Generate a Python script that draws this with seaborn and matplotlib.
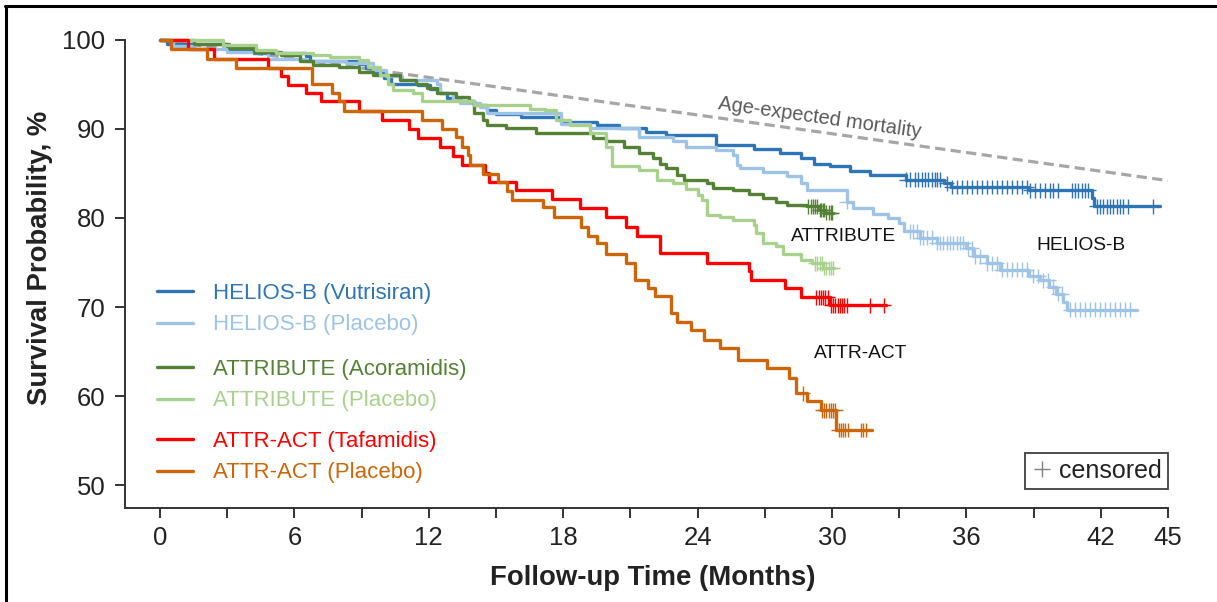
import numpy as np
import pandas as pd
import matplotlib
matplotlib.use("Agg")
import matplotlib.pyplot as plt
from matplotlib.lines import Line2D
import seaborn as sns

arms = ["HELIOS-B (Vutrisiran)", "HELIOS-B (Placebo)", "ATTRIBUTE (Acoramidis)",
        "ATTRIBUTE (Placebo)", "ATTR-ACT (Tafamidis)", "ATTR-ACT (Placebo)"]
colors = ["#2e75b6", "#9dc3e6", "#548235", "#a9d18e", "#ff0000", "#cc6608"]

# KM curves: month of each step and survival (%) after it,
# last entry is the end of follow-up
helios_vut_t = [0, 0.3, 3.0, 4.2, 6.5, 6.7, 8.9, 9.2, 9.5, 10.0, 10.3, 11.5, 12.05, 12.5, 12.8,
                13.4, 14.0, 14.6, 15.0, 16.1, 17.9, 19.5, 20.5, 21.7, 22.6, 24.8, 26.5, 27.7, 28.6,
                29.2, 29.9, 30.8, 31.7, 33.3, 35.0, 35.3, 38.8, 41.6, 41.7, 44.64]
helios_vut_s = [100, 99.6, 98.9, 98.5, 98.2, 97.6, 97.3, 96.9, 96.3, 95.7, 95.1, 94.9, 94.5, 94.0, 93.5,
                93.1, 92.7, 92.1, 91.7, 91.4, 90.8, 90.4, 90.1, 89.7, 89.3, 88.2, 87.8, 87.3, 86.7,
                86.1, 85.8, 85.3, 84.8, 84.3, 83.9, 83.5, 83.1, 82.2, 81.3, 81.3]

helios_pbo_t = [0, 0.6, 1.5, 3.0, 4.8, 6.5, 8.3, 9.5, 10.1, 10.8, 12.35, 12.5, 13.1, 13.4, 14.3, 14.6,
                17.9, 19.2, 21.4, 22.9, 23.5, 24.8, 25.6, 25.75, 25.9, 26.9, 28.0, 28.6, 28.87, 30.65,
                30.95, 31.85, 32.5, 33.0, 33.2, 33.93, 34.67, 36.0, 36.3, 36.9, 37.5, 38.8, 39.3, 39.7,
                40.0, 40.3, 40.5, 43.6]
helios_pbo_s = [100, 99.3, 99.0, 98.7, 97.9, 97.6, 97.4, 96.6, 95.9, 95.5, 95.0, 94.0, 93.3, 92.9, 92.5, 91.8,
                90.6, 90.1, 89.1, 88.6, 88.0, 87.6, 87.1, 86.0, 85.6, 85.2, 84.7, 83.9, 83.1, 81.8,
                81.1, 80.5, 80.0, 79.4, 78.5, 77.8, 77.2, 76.6, 75.7, 74.9, 74.2, 73.5, 73.0, 72.3,
                71.5, 70.6, 69.7, 69.7]

attribute_aco_t = [0, 1.5, 3.1, 4.2, 5.4, 6.25, 6.85, 8.0, 8.9, 9.5, 10.7, 11.45, 11.9, 12.35, 13.2,
                   13.8, 14.0, 14.4, 14.6, 15.45, 16.8, 19.35, 19.9, 20.7, 21.4, 22.0, 22.3, 22.6, 23.1,
                   23.4, 24.4, 24.7, 25.6, 26.3, 26.9, 27.5, 28.0, 28.9, 29.4, 29.7, 30.06]
attribute_aco_s = [100, 99.6, 99.1, 98.7, 98.3, 97.6, 97.2, 97.0, 96.4, 96.1, 95.5, 95.1, 94.6, 94.0, 93.6,
                   93.1, 91.8, 91.0, 90.4, 90.1, 89.5, 89.0, 88.6, 88.0, 87.3, 86.7, 86.1, 85.6, 84.8,
                   84.3, 83.9, 83.4, 83.1, 82.7, 82.2, 81.8, 81.5, 81.3, 80.9, 80.6, 80.6]

attribute_pbo_t = [0, 2.8, 4.3, 5.2, 6.85, 7.6, 8.9, 9.3, 9.8, 10.2, 10.4, 11.3, 11.7, 14.0, 16.5,
                   17.2, 17.7, 18.3, 19.2, 19.9, 20.2, 21.4, 22.2, 22.9, 23.5, 24.0, 24.2, 24.4, 25.0,
                   25.6, 26.5, 26.6, 26.9, 27.5, 27.8, 28.6, 29.1, 29.6, 30.1]
attribute_pbo_s = [100, 99.4, 98.9, 98.5, 98.3, 98.1, 97.8, 97.0, 96.1, 95.0, 94.4, 94.0, 93.1, 92.7, 92.3,
                   92.1, 91.0, 90.4, 89.5, 88.0, 85.8, 85.4, 84.3, 83.9, 83.3, 82.6, 82.0, 80.3, 80.1,
                   79.8, 79.2, 78.3, 77.2, 76.8, 76.0, 75.3, 74.9, 74.4, 74.4]

attract_taf_t = [0, 1.25, 2.4, 4.8, 5.4, 5.7, 6.5, 7.2, 8.9, 9.9, 11.1, 11.5, 12.5, 13.1, 13.5,
                 14.5, 14.7, 15.9, 17.5, 18.75, 19.9, 20.8, 21.3, 22.3, 24.4, 26.3, 26.4, 27.9, 28.6,
                 29.9, 32.4]
attract_taf_s = [100, 99.0, 97.9, 96.8, 95.9, 94.9, 94.0, 93.1, 92.0, 91.0, 90.0, 89.0, 88.0, 87.0, 86.0,
                 85.0, 84.0, 83.1, 82.1, 81.1, 80.1, 79.0, 78.0, 76.1, 75.0, 74.0, 73.0, 72.1, 71.1,
                 70.2, 70.2]

attract_pbo_t = [0, 0.5, 2.1, 3.4, 6.8, 7.7, 8.0, 8.2, 11.7, 12.6, 13.2, 13.5, 13.75, 13.85, 14.4,
                 15.1, 15.5, 15.7, 17.1, 17.6, 18.8, 19.1, 19.5, 19.9, 20.8, 21.2, 21.8, 22.1, 22.8,
                 23.1, 23.7, 24.3, 25.0, 25.8, 27.1, 28.1, 28.4, 28.9, 29.5, 30.2, 31.8]
attract_pbo_s = [100, 99.0, 97.9, 96.8, 95.0, 94.0, 93.1, 92.0, 91.0, 90.0, 89.1, 88.0, 87.1, 86.0, 84.9,
                 84.1, 83.0, 82.0, 81.2, 80.1, 79.0, 78.0, 77.2, 76.0, 74.9, 73.0, 72.1, 71.2, 69.3,
                 68.3, 67.4, 66.3, 65.4, 64.0, 63.1, 62.0, 60.3, 59.4, 58.4, 56.2, 56.2]

# censoring times (months)
helios_vut_c = [33.30, 33.48, 33.70, 33.85, 34.00, 34.15, 34.30, 34.45, 34.60, 34.70, 34.82, 35.12,
                35.34, 35.57, 35.79, 36.01, 36.24, 36.46, 36.68, 36.90, 37.13, 37.35, 37.57, 37.80,
                38.02, 38.24, 38.47, 38.69, 38.84, 39.06, 39.29, 39.51, 39.73, 39.88, 40.10, 40.70,
                40.85, 41.00, 41.15, 41.30, 41.44, 41.82, 41.96, 42.11, 42.26, 42.41, 42.56, 42.71,
                42.86, 43.01, 43.23, 44.35]
helios_pbo_c = [30.65, 33.48, 33.63, 33.78, 33.93, 34.08, 34.23, 34.45, 34.67, 34.82, 34.97, 35.12,
                35.27, 35.42, 35.57, 35.71, 35.86, 36.09, 36.24, 36.38, 36.61, 36.90, 37.13, 37.35,
                37.57, 37.80, 38.02, 38.24, 38.47, 38.69, 38.99, 39.21, 39.43, 39.66, 39.88, 40.10,
                40.25, 40.63, 40.85, 41.07, 41.30, 41.52, 41.74, 41.96, 42.19, 42.41, 42.63, 42.86,
                43.08, 43.30]
attribute_aco_c = [28.95, 29.05, 29.15, 29.25, 29.35, 29.45, 29.5, 29.6, 29.65, 29.75, 29.85, 29.95, 30.0]
attribute_pbo_c = [29.25, 29.35, 29.45, 29.55, 29.65, 29.75, 29.85, 29.95, 30.05]
attract_taf_c = [29.3, 29.4, 29.5, 29.6, 29.7, 29.8, 29.95, 30.05, 30.15, 30.25, 30.35, 30.45, 30.55,
                 30.65, 31.7, 32.3]
attract_pbo_c = [28.7, 29.55, 29.65, 29.75, 29.85, 29.95, 30.05, 30.15, 30.3, 30.4, 30.5, 30.6, 30.7,
                 31.3, 31.4, 31.5]

# age-expected mortality reference line
age_t = [0, 45]
age_s = [100.0, 84.2]

xticks = [0, 3, 6, 9, 12, 15, 18, 21, 24, 27, 30, 33, 36, 39, 42, 45]
xticklabels = ["0", "", "6", "", "12", "", "18", "", "24", "", "30", "", "36", "", "42", "45"]
yticks = [50, 60, 70, 80, 90, 100]

curves = [(helios_vut_t, helios_vut_s), (helios_pbo_t, helios_pbo_s),
          (attribute_aco_t, attribute_aco_s), (attribute_pbo_t, attribute_pbo_s),
          (attract_taf_t, attract_taf_s), (attract_pbo_t, attract_pbo_s)]
censors = [helios_vut_c, helios_pbo_c, attribute_aco_c, attribute_pbo_c, attract_taf_c, attract_pbo_c]

rows = []
cens_rows = []
for arm, (t, s), ct in zip(arms, curves, censors):
    for a, b in zip(t, s):
        rows.append((arm, a, b))
    idx = np.searchsorted(t, ct, side="right") - 1
    for c, i in zip(ct, idx):
        cens_rows.append((arm, c, s[i]))
df = pd.DataFrame(rows, columns=["arm", "month", "surv"])
df_c = pd.DataFrame(cens_rows, columns=["arm", "month", "surv"])

sns.set_style("ticks")
plt.rcParams["font.family"] = ["Liberation Sans", "DejaVu Sans"]

W, H = 1217, 602
fig = plt.figure(figsize=(W / 100, H / 100), dpi=100)
ax = fig.add_axes([125 / W, 1 - 508 / H, (1168 - 125) / W, (508 - 30) / H])

ymin, ymax = 47.42, 101.12
ax.plot(age_t, age_s, color="#a6a6a6", lw=2.3, dashes=(3.2, 1.7), zorder=1)

palette = dict(zip(arms, colors))
sns.lineplot(data=df, x="month", y="surv", hue="arm", hue_order=arms, palette=palette,
             estimator=None, sort=False, drawstyle="steps-post", linewidth=2.4,
             legend=False, ax=ax, zorder=3)
sns.scatterplot(data=df_c, x="month", y="surv", hue="arm", hue_order=arms, palette=palette,
                marker="+", s=110, linewidth=1.0, legend=False, ax=ax, zorder=4)

ax.set_xlim(-1.5625, 45)
ax.set_ylim(ymin, ymax)
ax.set_xticks(xticks)
ax.set_xticklabels(xticklabels)
ax.set_yticks(yticks)
sns.despine(ax=ax)
ax.spines["left"].set_bounds(ymin, 100)
for sp in ["left", "bottom"]:
    ax.spines[sp].set_linewidth(1.4)
    ax.spines[sp].set_color("#333333")
ax.tick_params(axis="both", direction="out", length=7, width=1.4, color="#333333",
               labelsize=18.5, labelcolor="#222222")
ax.tick_params(axis="x", pad=6)
ax.tick_params(axis="y", pad=7)

ax.set_xlabel("Follow-up Time (Months)", fontsize=19.8, fontweight="bold", color="#222222")
ax.set_ylabel("Survival Probability, %", fontsize=19.8, fontweight="bold", color="#222222")
ax.xaxis.set_label_coords(0.506, -0.119)
ax.yaxis.set_label_coords(-0.069, 0.523)

# study labels and reference line label
ax.text(29.46, 91.24, "Age-expected mortality", rotation=-8, rotation_mode="anchor",
        ha="center", va="center", fontsize=14.4, color="#595959")
ax.text(30.5, 77.9, "ATTRIBUTE", ha="center", va="center", fontsize=13.8, color="#111111")
ax.text(41.1, 76.9, "HELIOS-B", ha="center", va="center", fontsize=13.8, color="#111111")
ax.text(31.3, 64.8, "ATTR-ACT", ha="center", va="center", fontsize=13.8, color="#111111")

# arm legend, in three pairs
tops = [283, 359, 431]
for k, top in enumerate(tops):
    hs = [Line2D([], [], color=colors[2 * k + j], lw=2.4) for j in range(2)]
    leg = ax.legend(hs, arms[2 * k:2 * k + 2], loc="upper left",
                    bbox_to_anchor=(157 / W, 1 - top / H), bbox_transform=fig.transFigure,
                    frameon=False, fontsize=16, handlelength=1.62, handletextpad=0.9,
                    labelspacing=0.47, borderpad=0, borderaxespad=0, labelcolor="linecolor")
    ax.add_artist(leg)

cens_handle = Line2D([], [], ls="none", marker="+", ms=12, mew=1.0, color="#808080")
leg_c = ax.legend([cens_handle], ["censored"], loc="lower right",
                  bbox_to_anchor=(1168 / W, 1 - 489 / H), bbox_transform=fig.transFigure,
                  fontsize=18, frameon=True, fancybox=False, borderaxespad=0, borderpad=0.25,
                  handlelength=0.8, handletextpad=0.3, framealpha=1)
leg_c.get_frame().set_edgecolor("#404040")
leg_c.get_frame().set_linewidth(1.3)
for t in leg_c.get_texts():
    t.set_color("#222222")

# outer border (top and left edges of the panel)
fig.add_artist(Line2D([5 / W, 1], [1 - 5.5 / H, 1 - 5.5 / H], transform=fig.transFigure,
                      color="black", lw=2.2))
fig.add_artist(Line2D([5.5 / W, 5.5 / W], [0, 1 - 5.5 / H], transform=fig.transFigure,
                      color="black", lw=2.2))

fig.savefig("out.png", dpi=100)
